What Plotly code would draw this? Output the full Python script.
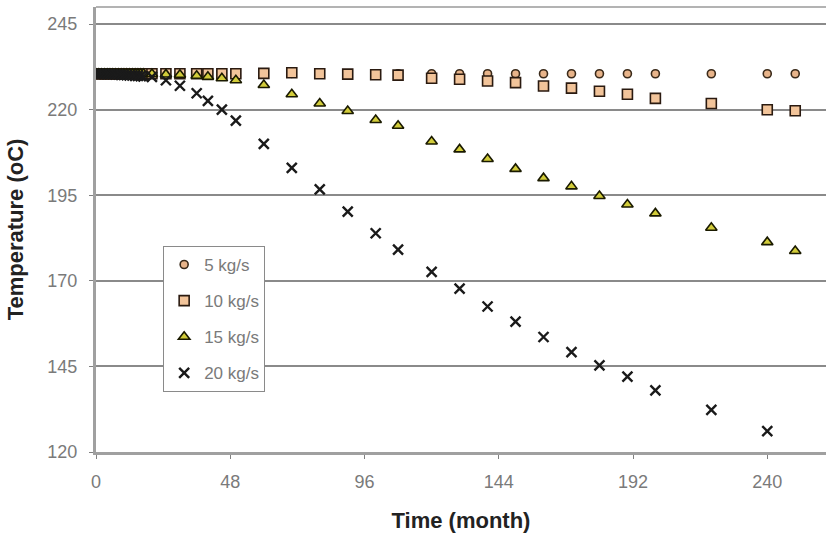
import plotly.graph_objects as go

# Time points (months)
time_all = list(range(0, 18)) + [20, 25, 30, 36, 40, 45, 50, 60, 70, 80, 90, 100, 108,
                                 120, 130, 140, 150, 160, 170, 180, 190, 200, 220, 240, 250]

t5 = [230.5] * 18 + [230.5, 230.5, 230.5, 230.5, 230.5, 230.5, 230.5, 230.6, 230.6, 230.5,
                     230.5, 230.5, 230.5, 230.5, 230.5, 230.5, 230.5, 230.5, 230.5, 230.5,
                     230.5, 230.5, 230.5, 230.5, 230.5]

t10 = [230.5] * 18 + [230.5, 230.5, 230.5, 230.5, 230.5, 230.5, 230.5, 230.6, 230.8, 230.5,
                      230.4, 230.2, 230.1, 229.2, 228.9, 228.4, 227.9, 226.9, 226.3, 225.4,
                      224.5, 223.3, 221.8, 220.0, 219.7]

t15 = [230.5] * 18 + [230.4, 230.3, 230.2, 229.9, 229.6, 229.2, 228.6, 227.2, 224.5, 221.8,
                      219.6, 217.0, 215.3, 210.7, 208.4, 205.6, 202.7, 200.0, 197.6, 194.8,
                      192.3, 189.7, 185.5, 181.3, 178.7]

time20 = time_all[:-1]
t20 = [230.5, 230.5, 230.5, 230.5, 230.4, 230.4, 230.4, 230.3, 230.3, 230.2, 230.2, 230.1,
       230.0, 230.0, 229.9, 229.9, 229.8, 229.7] + \
      [229.6, 228.6, 227.0, 224.8, 222.6, 220.0, 216.8, 210.0, 203.0, 196.7, 190.2, 183.9,
       179.1, 172.6, 167.7, 162.5, 158.1, 153.6, 149.2, 145.3, 142.0, 138.0, 132.3, 126.1]

x_ticks = [0, 48, 96, 144, 192, 240]
y_ticks = [120, 145, 170, 195, 220, 245]

fig = go.Figure()
fig.add_trace(go.Scatter(x=time_all, y=t5, mode="markers", name="5 kg/s", legendgroup="a",
                         marker=dict(symbol="circle", size=8, color="#e8b48a",
                                     line=dict(color="#3a2a1a", width=1.6))))
fig.add_trace(go.Scatter(x=time_all, y=t10, mode="markers", name="10 kg/s", legendgroup="b",
                         marker=dict(symbol="square", size=10, color="#f2c49a",
                                     line=dict(color="#2a1a10", width=1.6))))
fig.add_trace(go.Scatter(x=time_all, y=t15, mode="markers", name="15 kg/s", legendgroup="c",
                         marker=dict(symbol="triangle-up", size=10, color="#d2cc3a",
                                     line=dict(color="#1a1a00", width=1.6))))
fig.add_trace(go.Scatter(x=time20, y=t20, mode="markers", name="20 kg/s", legendgroup="d",
                         marker=dict(symbol="x-thin", size=10, color="#1a1a1a",
                                     line=dict(color="#1a1a1a", width=2.4))))

fig.update_layout(
    width=826, height=540,
    margin=dict(l=96, r=0, t=7, b=88),
    paper_bgcolor="white", plot_bgcolor="white",
    font=dict(family="Liberation Sans, Arial, sans-serif", size=17, color="#666666"),
    showlegend=True,
    legend=dict(x=0.092, y=0.463, xanchor="left", yanchor="top",
                bgcolor="white", bordercolor="#8a8a8a", borderwidth=1,
                font=dict(size=17, color="#7a7a7a"), tracegroupgap=11,
                traceorder="grouped", itemwidth=30),
    xaxis=dict(range=[0, 261], tickvals=x_ticks, ticktext=[str(v) for v in x_ticks],
               showgrid=False, zeroline=False, showline=True, linecolor="#a0a0a0",
               linewidth=3, ticks="outside", ticklen=4, tickcolor="#808080",
               ticklabelstandoff=7,
               tickfont=dict(size=18, color="#7a7a7a"),
               title=dict(text="<b>Time (month)</b>", standoff=23,
                          font=dict(size=22, color="#222222"))),
    yaxis=dict(range=[120, 250], tickvals=y_ticks, ticktext=[str(v) for v in y_ticks],
               showgrid=True, gridcolor="#8a8a8a", gridwidth=1.5, zeroline=False,
               showline=True, linecolor="#a0a0a0", linewidth=3, ticks="outside",
               ticklen=4, tickcolor="#808080",
               ticklabelstandoff=8,
               tickfont=dict(size=18, color="#7a7a7a"),
               title=dict(text="<b>Temperature (oC)</b>", standoff=18,
                          font=dict(size=22, color="#222222"))),
    shapes=[dict(type="line", xref="paper", yref="paper", x0=0, x1=1, y0=1, y1=1,
                 line=dict(color="#9a9a9a", width=1.5))],
)

fig.write_html("out.html")
